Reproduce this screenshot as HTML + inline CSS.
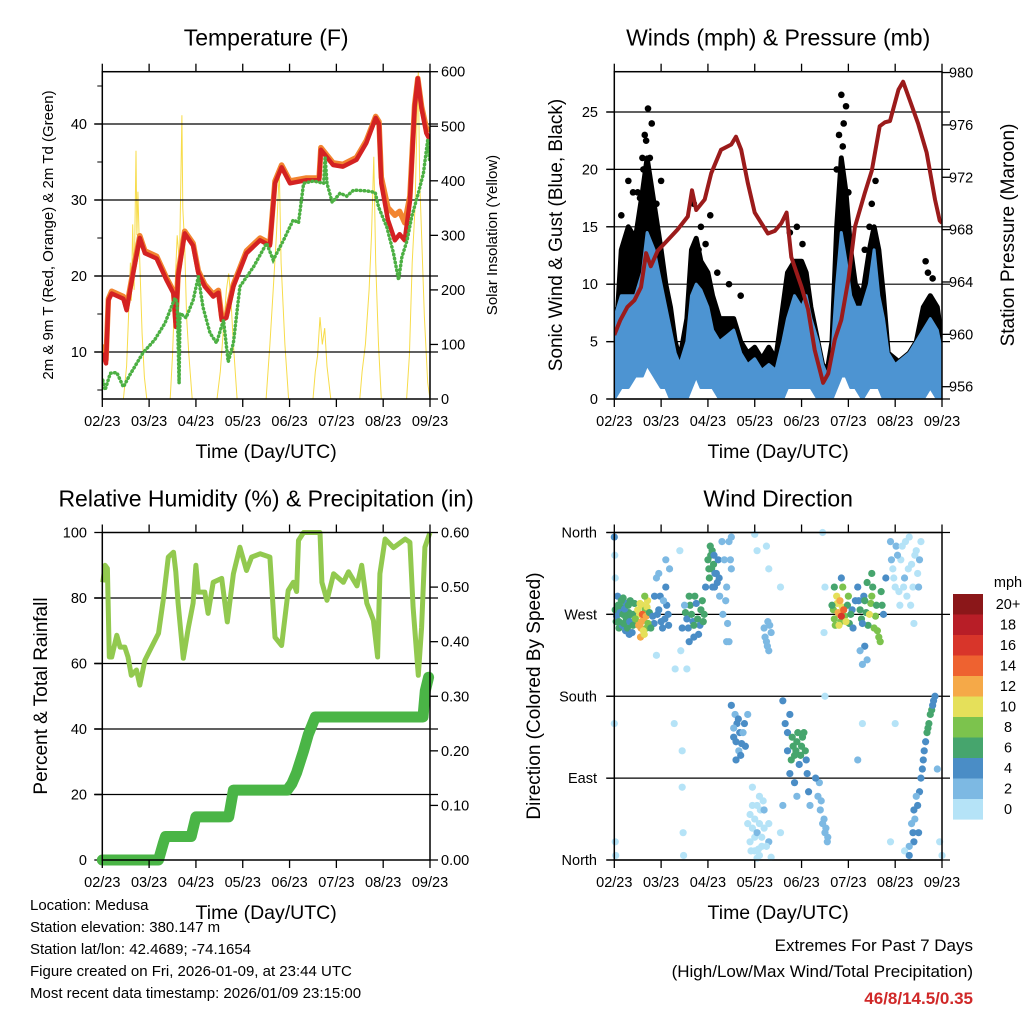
<!DOCTYPE html>
<html><head><meta charset="utf-8"><style>
html,body{margin:0;padding:0;background:#fff}
svg{display:block;font-family:"Liberation Sans",sans-serif}
</style></head><body>
<svg id="root" width="1024" height="1024" viewBox="0 0 1024 1024">
<rect width="1024" height="1024" fill="#fff"/>
<g id="p1"></g>
<g id="p2"></g>
<g id="p3"></g>
<g id="p4"></g>
<g font-size="15" fill="#000">
<text x="30" y="910">Location: Medusa</text>
<text x="30" y="932">Station elevation: 380.147 m</text>
<text x="30" y="954">Station lat/lon: 42.4689; -74.1654</text>
<text x="30" y="976">Figure created on Fri, 2026-01-09, at 23:44 UTC</text>
<text x="30" y="998">Most recent data timestamp: 2026/01/09 23:15:00</text>
</g>
<g text-anchor="end">
<text x="973" y="951" font-size="17">Extremes For Past 7 Days</text>
<text x="973" y="977" font-size="17">(High/Low/Max Wind/Total Precipitation)</text>
<text x="973" y="1004" font-size="17" font-weight="bold" fill="#d02828">46/8/14.5/0.35</text>
</g>
</svg>
<script>
const dayLabels=["02/23","03/23","04/23","05/23","06/23","07/23","08/23","09/23"];
// Temperature
const tDays=[0.01,0.08,0.13,0.2,0.45,0.52,0.59,0.66,0.8,0.91,1.16,1.37,1.52,1.57,1.62,1.76,1.94,2.05,2.19,2.37,2.48,2.55,2.65,2.8,3.08,3.37,3.58,3.69,3.83,4.01,4.36,4.63,4.67,4.93,5.14,5.43,5.64,5.84,5.91,5.96,6.1,6.25,6.35,6.46,6.57,6.67,6.74,6.82,6.92,6.99];
const tRed=[9.9,8.5,16.8,17.7,17,15.5,18,20.4,25,23,22.3,19.5,17.7,13.3,20,25.6,24,20.4,18.6,17.3,17.8,14.2,14.5,18.6,23,24.7,24,32.2,34.3,32.2,32.6,32.6,36.6,34.6,34.4,35.3,37.5,40.8,40,32.2,27.4,24.7,25.5,24.7,29.8,42.2,46,42,38.8,38];
const tOrange=[11,9,17,18,17.3,15.8,18.3,20.7,25.3,23.3,22.6,19.8,18,14,20.3,25.9,24.3,20.7,18.9,17.6,18.1,14.6,14.8,18.9,23.3,25,24.3,32.5,34.6,32.5,32.9,32.9,36.9,34.9,34.7,35.6,37.8,41,40.3,33,29,28,28.5,27,30.5,42.5,46,42.3,39.5,39];
const tdDays=[0.01,0.06,0.17,0.31,0.45,0.59,0.87,1.12,1.34,1.55,1.6,1.64,1.66,1.79,1.94,2.05,2.15,2.3,2.44,2.59,2.69,2.8,2.94,3.23,3.51,3.65,3.87,4.08,4.19,4.3,4.51,4.73,4.76,4.8,4.91,5.08,5.22,5.37,5.65,5.83,5.9,6.08,6.22,6.33,6.4,6.51,6.61,6.75,6.86,6.95,6.99];
const tdF=[6.3,5,7.2,7.3,5.4,7,9.9,11.6,13.8,17.1,16.5,5.9,15.1,14.5,16.8,19.9,15.9,12.5,11.2,14.2,8.7,11.2,18.6,21.2,24.3,22.1,24.7,27.4,27,32.2,32.5,32.2,35.7,32.2,29.7,30.9,30.5,31.3,31.2,31,29.1,26.4,23,19.5,22.5,24.7,27.8,30.9,33.5,37.9,35.3];
const solarDays=[0,0.45,0.52,0.56,0.6,0.62,0.65,0.68,0.72,0.74,0.76,0.8,0.85,0.9,0.95,1.45,1.5,1.55,1.6,1.65,1.7,1.72,1.76,1.8,1.85,1.92,2.45,2.52,2.58,2.65,2.7,2.75,2.8,2.88,3.5,3.58,3.65,3.72,3.78,3.82,3.9,3.98,4.5,4.55,4.6,4.65,4.7,4.75,4.8,4.88,5.5,5.55,5.62,5.7,5.75,5.8,5.84,5.9,5.96,6.5,6.56,6.62,6.68,6.72,6.75,6.78,6.82,6.88,6.95,7.0];
const solarW=[0,0,60,150,250,180,320,200,455,300,380,250,120,40,0,0,80,200,300,250,520,350,280,150,80,0,0,50,120,200,230,180,100,0,0,100,200,300,420,250,100,0,0,50,80,150,100,130,60,0,0,50,100,200,300,444,250,100,0,0,80,250,350,500,600,400,300,150,30,0];
const tempTicks=[10,20,30,40];
const solarTicks=[0,100,200,300,400,500,600];
// Winds
const pDays=[0,0.13,0.28,0.43,0.57,0.68,0.78,0.93,1.14,1.35,1.57,1.66,1.75,1.93,2.07,2.28,2.5,2.6,2.71,2.85,3.0,3.14,3.28,3.43,3.57,3.68,3.78,4.0,4.14,4.28,4.46,4.57,4.71,4.85,5.0,5.14,5.35,5.5,5.67,5.78,5.89,6.07,6.17,6.31,6.49,6.67,6.85,6.95,7.0];
const pMb=[959.95,961.1,962.1,962.6,963.6,966.2,965.2,966.4,967.2,968,969,971,969.5,970.3,972.3,974.1,974.5,975.1,974.1,971.6,969.3,968.5,967.7,967.9,968.5,969.3,965.9,963.6,961.9,958.8,956.3,957,959.6,961.1,964.2,968.2,970.8,972.5,975.9,976.2,976.3,978.7,979.3,977.9,976.1,973.9,970.3,968.7,968.5];
const wDays=[0,0.15,0.3,0.45,0.6,0.7,0.85,1.0,1.1,1.2,1.3,1.4,1.55,1.65,1.75,1.85,2.0,2.1,2.25,2.4,2.55,2.7,2.85,3.0,3.15,3.3,3.45,3.6,3.7,3.85,4.0,4.1,4.2,4.35,4.45,4.55,4.65,4.75,4.85,4.95,5.05,5.15,5.3,5.45,5.55,5.65,5.75,5.85,6.0,6.15,6.3,6.45,6.6,6.75,6.9,7.0];
const wHi=[7,9,9,9,11,14.5,13,10,8,6,4,3,5,9,10,9.5,8,6,5,5.5,6,4,3,3.5,2.5,3,2.5,5,7,9,8,9,7,5,3,2,4,10,14.5,12,9,8,8,10,13,9,7,4,3,3.5,4,5,6,7,6,4];
const wLo=[0,1,1,2,2,3,2,1,1,0,0,0,0,1,2,1,1,1,0,0,0,0,0,0,0,0,0,0,1,1,1,1,1,0,0,0,0,1,2,2,1,1,0,1,1,1,0,0,0,0,0,0,0,1,0,0];
const gHi=[3,13,15,14,18,21,17,13,10,8,5,3.5,7,13,14,12,11,9,7,7,7,5,4,4.5,3.5,4.5,3.5,8,11,12,12,11,8,5,3,2.5,5,15,21,18,13,10,9,13,15,13,9,4,3.5,3,4,5,8,9,8,5];
const gDotDays=[0.55,0.65,0.72,1.0,1.8,2.05,2.7,4.02,4.85,4.95,5.35,5.45,6.7,0.3,0.8,0.15,0.4,0.6,0.68,0.76,0.9,1.7,1.85,1.95,2.2,2.45,3.75,3.9,4.8,4.9,5.0,5.5,5.58,6.65,6.8,0.5,0.62,4.75,4.88];
const gDotMph=[17.5,23,25.3,19,13,16,9,13.5,26.5,25.5,13,15,11,19,24,16,18,21,22.5,21,17,17,15,13.5,11,10,14.5,15,23,24,18,17,19,12,10.5,18,20,20,22];
const windTicks=[0,5,10,15,20,25];
const presTicks=[956,960,964,968,972,976,980];
// Humidity / rain
const rhDays=[0.01,0.06,0.11,0.15,0.2,0.31,0.38,0.48,0.55,0.62,0.73,0.8,0.91,1.05,1.2,1.3,1.41,1.52,1.57,1.62,1.73,1.84,1.94,2.0,2.05,2.19,2.26,2.37,2.55,2.67,2.8,2.94,3.08,3.19,3.37,3.58,3.69,3.83,3.97,4.08,4.15,4.19,4.3,4.65,4.69,4.8,4.94,5.15,5.26,5.44,5.54,5.65,5.79,5.88,5.93,6.04,6.22,6.47,6.57,6.64,6.75,6.82,6.89,7.0];
const rhPct=[84.8,90,89,62,62,68.6,65,65,62,56.4,58,53.4,61,65,69.2,79.3,92.5,94,88,78.4,61.6,71,78.4,90,81.8,81.8,75.3,84.8,86,72.7,87.4,95.5,88.4,92.5,93.5,92.5,68,65.5,82.3,84.8,82,97.6,100,100,84.8,79.3,87.4,84.8,88,83.7,90,78.4,73.2,62,87.4,98,95.4,98,97,77.2,56.4,71,95.5,100];
const rainDays=[0,1.2,1.3,1.35,1.9,2.0,2.7,2.8,3.95,4.05,4.15,4.3,4.4,4.55,6.85,6.9,6.97];
const rainIn=[0,0,0.03,0.043,0.043,0.079,0.079,0.128,0.128,0.14,0.16,0.2,0.23,0.262,0.262,0.31,0.335];
const rhTicks=[0,20,40,60,80,100];
const rainTicks=["0.00","0.10","0.20","0.30","0.40","0.50","0.60"];
// Wind direction
const dirDay=[0.02,0.05,0.08,0.1,0.12,0.15,0.18,0.2,0.22,0.25,0.28,0.3,0.33,0.36,0.38,0.4,0.45,0.5,0.52,0.55,0.58,0.6,0.62,0.65,0.68,0.7,0.72,0.75,0.78,0.82,0.86,0.9,0.95,1.0,1.05,1.1,1.15,1.18,0.0,0.01,0.02,0.0,0.02,0.03,1.45,1.5,1.55,1.6,1.65,1.7,1.75,1.8,1.85,1.9,1.95,2.0,2.03,2.05,2.08,2.1,2.13,2.15,2.2,2.25,2.3,2.35,2.4,2.42,2.45,2.5,2.5,1.4,1.42,1.45,1.45,1.47,1.48,1.3,1.28,2.5,2.55,2.6,2.65,2.7,2.75,2.8,2.85,2.6,2.85,2.9,2.95,3.0,3.0,3.05,3.1,3.1,3.15,3.2,3.25,3.3,3.35,2.95,3.05,3.2,3.25,3.28,3.3,3.35,3.25,3.3,3.0,3.05,3.6,3.65,3.7,3.75,3.8,3.85,3.9,3.95,4.0,4.05,4.1,3.85,3.9,3.55,3.6,3.55,4.3,4.35,4.4,4.45,4.5,4.55,4.5,4.5,4.48,4.45,4.65,4.7,4.75,4.78,4.8,4.82,4.85,4.88,4.9,4.95,5.0,5.05,5.1,5.15,5.2,5.25,5.3,5.35,5.4,5.45,5.5,5.55,5.6,5.65,5.7,5.75,5.8,5.25,5.3,5.9,5.95,6.0,6.05,6.1,6.15,6.2,6.25,6.3,6.35,6.4,6.45,6.5,6.55,6.35,6.4,6.45,6.5,6.55,6.6,6.65,6.7,6.75,6.8,6.85,6.9,6.2,6.3,6.95,7.0,5.3,5.2,5.9,6.0,1.55,0.9];
const dirDeg=[275,268,280,262,272,285,270,260,276,266,255,280,262,270,250,258,265,275,258,282,262,270,252,290,268,278,260,272,255,268,290,310,275,262,285,300,270,320,355,335,310,150,20,5,255,280,265,290,270,258,282,248,275,262,300,330,310,345,320,300,335,315,305,290,350,330,300,260,240,355,320,340,230,120,80,30,5,210,150,170,145,130,155,115,140,125,160,110,40,20,60,10,45,30,70,5,25,55,15,40,3,80,2,255,240,262,230,250,345,320,358,340,175,150,120,95,135,115,130,105,125,140,110,85,70,300,60,30,90,70,55,40,30,20,180,300,250,360,280,265,290,272,258,285,268,300,275,262,290,270,255,285,300,275,260,285,305,270,290,255,280,245,295,270,310,230,215,350,320,300,335,280,345,310,290,355,325,260,340,300,350,40,55,70,30,90,110,130,145,160,170,180,100,10,5,20,5,150,110,20,150,210,225];
const dirSpd=[6,5,6,7,5,6,7,6,5,6,7,6,5,6,4,7,9,11,12,10,13,15,11,9,12,10,8,7,6,5,4,3,4,5,3,4,5,2,4,1,1,1,1,1,4,3,5,6,7,6,5,4,7,6,5,6,7,7,6,5,5,4,4,3,2,3,2,3,2,2,2,1,1,1,1,1,1,1,1,4,3,4,5,4,3,4,3,4,1,1,1,1,1,2,1,1,1,2,1,1,1,1,1,2,2,3,2,2,1,1,1,1,4,4,5,4,7,7,6,4,7,6,5,4,3,1,2,1,4,3,3,2,3,2,1,1,1,1,7,9,10,13,11,12,16,9,14,10,8,6,5,4,5,7,4,6,7,10,8,8,7,8,6,4,5,3,3,2,1,1,2,1,1,2,1,1,1,1,1,2,1,3,4,3,4,4,4,5,6,7,5,4,3,1,4,1,1,1,2,1,1,1,1];
const dirDayB=[0.04,0.07,0.1,0.14,0.17,0.19,0.23,0.26,0.29,0.31,0.34,0.37,0.41,0.43,0.24,0.32,0.48,0.54,0.57,0.6,0.63,0.66,0.69,0.71,0.56,0.64,0.85,0.92,0.98,1.03,1.08,1.12,1.16,0.95,1.1,1.52,1.58,1.62,1.68,1.72,1.78,1.83,1.88,1.92,1.6,1.7,2.02,2.06,2.09,2.12,2.14,2.18,2.22,2.24,2.32,2.38,2.45,2.48,2.4,2.55,2.62,2.68,2.72,2.78,2.66,2.58,2.9,2.95,3.0,3.05,3.1,3.15,3.2,3.3,2.92,3.08,3.12,3.18,3.22,3.27,3.32,3.7,3.78,3.82,3.88,3.92,3.98,4.02,4.08,4.12,4.15,4.18,3.75,4.38,4.42,4.48,4.52,4.56,4.68,4.72,4.76,4.8,4.84,4.87,4.92,4.98,5.02,5.08,4.7,4.85,5.22,5.28,5.33,5.38,5.42,5.48,5.52,5.58,5.62,5.68,5.72,5.5,5.35,5.4,5.92,5.97,6.02,6.08,6.12,6.18,6.22,6.28,6.33,6.38,6.42,6.48,6.52,6.38,6.42,6.48,6.52,6.58,6.62,6.68,6.72,6.78,6.82,6.4,6.3];
const dirDegB=[262,290,255,278,258,288,270,282,265,272,285,260,270,282,252,248,262,270,255,280,265,275,255,285,245,248,260,270,290,255,265,280,258,315,330,272,255,280,262,290,265,258,285,270,240,245,320,335,340,325,300,315,330,310,270,285,350,330,240,135,150,140,128,150,120,160,50,35,25,60,40,15,35,20,10,12,55,65,245,235,258,140,110,125,120,140,115,135,120,95,75,60,160,85,65,45,35,25,275,258,282,270,262,278,268,280,260,275,300,310,285,265,290,272,258,282,300,268,252,240,280,315,235,220,330,310,345,295,330,300,350,320,280,300,335,315,330,30,45,60,75,100,120,140,150,165,175,20,15];
const dirSpdB=[6,5,6,7,5,6,7,5,6,7,6,5,6,7,4,4,12,10,13,11,12,9,8,10,12,10,5,4,4,5,4,5,4,3,3,6,5,7,5,6,7,5,6,7,4,4,7,6,7,6,5,5,4,5,2,3,2,2,2,4,4,4,5,4,3,3,1,1,1,1,1,1,1,2,1,1,1,1,2,2,2,4,6,7,7,6,6,7,6,4,4,3,4,3,3,3,2,3,8,8,11,12,9,10,8,7,6,5,6,5,5,6,5,7,6,8,7,9,8,8,6,6,4,3,2,1,2,1,1,1,1,1,1,1,1,1,2,4,3,4,4,4,5,7,6,6,5,4,2];
const spdColors=["#b5e3f7","#7db9e3","#4a8dc6","#46a56d","#7cc34d","#e5e05a","#f5a948","#ee6230","#d8352a","#b81e27","#8b1719"];
const spdLabels=["20+","18","16","14","12","10","8","6","4","2","0"];
const dirLabels=["North","West","South","East","North"];

const NS="http://www.w3.org/2000/svg";
function mk(parent,tag,attrs){const e=document.createElementNS(NS,tag);for(const k in attrs)e.setAttribute(k,attrs[k]);parent.appendChild(e);return e;}
function txt(parent,x,y,s,size,anchor,rot){const e=mk(parent,"text",{x:x,y:y,"font-size":size,"text-anchor":anchor||"middle"});if(rot)e.setAttribute("transform","rotate(-90 "+x+" "+y+")");e.textContent=s;return e;}
function frame(g,x0,y0,x1,y1,title,xTitle){
  for(let i=0;i<8;i++){const x=x0+i*(x1-x0)/7;
    const t1=mk(g,"line",{x1:x,y1:y0,x2:x,y2:y0-8,stroke:"#000","stroke-width":1.3});
    
    const t2=mk(g,"line",{x1:x,y1:y1,x2:x,y2:y1+8,stroke:"#000","stroke-width":1.3});
    
    const l=txt(g,x,y1+27,dayLabels[i],14.5);
    }
  const r=mk(g,"rect",{x:x0,y:y0,width:x1-x0,height:y1-y0,fill:"none",stroke:"#000","stroke-width":1.5});
  
  const t=txt(g,(x0+x1)/2,y0-26,title,23);
  
  const xt=txt(g,(x0+x1)/2,y1+59,xTitle,19.5);
  
}
function yTicks(g,x0,x1,ys,labels,side,grid,lx){
  ys.forEach((y,i)=>{
    if(grid){const gl=mk(g,"line",{x1:x0-8,y1:y,x2:x1+8,y2:y,stroke:"#000","stroke-width":1.2});
      }
    const tx=side==="left"?x0:x1;const d=side==="left"?-8:8;
    const tk=mk(g,"line",{x1:tx,y1:y,x2:tx+d,y2:y,stroke:"#000","stroke-width":1.3});
    
    const l=txt(g,lx,y+5,labels[i],14.5,side==="left"?"end":"start");
    
  });
}
function pathD(xs,ys){return xs.map((x,i)=>(i?"L":"M")+x.toFixed(1)+" "+ys[i].toFixed(1)).join(" ");}

// ---- Panel 1
(function(){
  const g=document.getElementById("p1");const X0=102.3,X1=430,Y0=71.7,Y1=399;
  const xs=d=>X0+d*(X1-X0)/7;const yT=v=>352-(v-10)*7.6;const yS=v=>Y1-v*(Y1-Y0)/600;
  const clip=mk(g,"clipPath",{id:"c1"});mk(clip,"rect",{x:X0,y:Y0,width:X1-X0,height:Y1-Y0});
  const s=mk(g,"path",{d:pathD(solarDays.map(xs),solarW.map(yS)),fill:"none",stroke:"#f7dc4a","stroke-width":1,"clip-path":"url(#c1)"});
  
  yTicks(g,X0,X1,tempTicks.map(yT),tempTicks.map(String),"left",true,87);
  yTicks(g,X0,X1,solarTicks.map(yS),solarTicks.map(String),"right",false,441);
  [5,15,25,35,45].forEach(v=>{const m=mk(g,"line",{x1:X0,y1:yT(v),x2:X0-5,y2:yT(v),stroke:"#000"});});
  const o=mk(g,"path",{d:pathD(tDays.map(xs),tOrange.map(yT)),fill:"none",stroke:"#f28530","stroke-width":5.5,"stroke-linejoin":"round","clip-path":"url(#c1)"});
  
  const r=mk(g,"path",{d:pathD(tDays.map(xs),tRed.map(yT)),fill:"none",stroke:"#d42222","stroke-width":4.5,"stroke-linejoin":"round","clip-path":"url(#c1)"});
  
  const d=mk(g,"path",{d:pathD(tdDays.map(xs),tdF.map(yT)),fill:"none",stroke:"#4cb043","stroke-width":3.5,"stroke-linecap":"round","stroke-dasharray":"0.5 3.5","clip-path":"url(#c1)"});
  
  frame(g,X0,Y0,X1,Y1,"Temperature (F)","Time (Day/UTC)");
  const a=txt(g,53,235,"2m & 9m T (Red, Orange) & 2m Td (Green)",15,"middle",true);
  const b=txt(g,497,235,"Solar Insolation (Yellow)",15,"middle",true);
})();

// ---- Panel 2
(function(){
  const g=document.getElementById("p2");const X0=614.3,X1=942,Y0=71.7,Y1=399;
  const xs=d=>X0+d*(X1-X0)/7;const yW=v=>Y1-v*11.48;const yP=v=>386.7-(v-956)*13.09;
  const clip=mk(g,"clipPath",{id:"c2"});mk(clip,"rect",{x:X0,y:Y0,width:X1-X0,height:Y1-Y0});
  yTicks(g,X0,X1,windTicks.map(yW),windTicks.map(String),"left",true,598);
  yTicks(g,X0,X1,presTicks.map(yP),presTicks.map(String),"right",false,949);
  const gx=wDays.map(xs);
  const gp=pathD(gx,gHi.map(yW))+" "+gx.slice().reverse().map((x,i)=>"L"+x.toFixed(1)+" "+yW(wHi[wHi.length-1-i]).toFixed(1)).join(" ")+"Z";
  const ga=mk(g,"path",{d:gp,fill:"#000",stroke:"#000","stroke-width":5,"stroke-linejoin":"round","clip-path":"url(#c2)"});
  
  gDotDays.forEach((dd,i)=>{const c=mk(g,"circle",{cx:xs(dd),cy:yW(gDotMph[i]),r:3.3,fill:"#000"});
    });
  const bp=pathD(gx,wHi.map(yW))+" "+gx.slice().reverse().map((x,i)=>"L"+x.toFixed(1)+" "+yW(wLo[wLo.length-1-i]).toFixed(1)).join(" ")+"Z";
  const ba=mk(g,"path",{d:bp,fill:"#4d94d2",stroke:"#4d94d2","stroke-width":3,"stroke-linejoin":"round","clip-path":"url(#c2)"});
  
  const p=mk(g,"path",{d:pathD(pDays.map(xs),pMb.map(yP)),fill:"none",stroke:"#9b1b1b","stroke-width":4,"stroke-linejoin":"round","clip-path":"url(#c2)"});
  
  frame(g,X0,Y0,X1,Y1,"Winds (mph) & Pressure (mb)","Time (Day/UTC)");
  const a=txt(g,562,235,"Sonic Wind & Gust (Blue, Black)",19,"middle",true);
  const b=txt(g,1014,235,"Station Pressure (Maroon)",19,"middle",true);
})();

// ---- Panel 3
(function(){
  const g=document.getElementById("p3");const X0=102.3,X1=430,Y0=532.5,Y1=860;
  const xs=d=>X0+d*(X1-X0)/7;const yH=v=>Y1-v*3.275;const yR=v=>Y1-v*545.8;
  yTicks(g,X0,X1,[20,40,60,80].map(yH),["","","",""],"left",true,87);
  yTicks(g,X0,X1,rhTicks.map(yH),rhTicks.map(String),"left",false,87);
  yTicks(g,X0,X1,rainTicks.map(v=>yR(parseFloat(v))),rainTicks,"right",false,441);
  const rn=mk(g,"path",{d:pathD(rainDays.map(xs),rainIn.map(yR)),fill:"none",stroke:"#4ab546","stroke-width":11,"stroke-linecap":"round","stroke-linejoin":"round"});
  
  const rh=mk(g,"path",{d:pathD(rhDays.map(xs),rhPct.map(yH)),fill:"none",stroke:"#92c94f","stroke-width":5,"stroke-linejoin":"round"});
  
  frame(g,X0,Y0,X1,Y1,"Relative Humidity (%) & Precipitation (in)","Time (Day/UTC)");
  const a=txt(g,47,696,"Percent & Total Rainfall",19,"middle",true);
})();

// ---- Panel 4
(function(){
  const g=document.getElementById("p4");const X0=614.3,X1=942,Y0=532.5,Y1=860;
  const xs=d=>X0+d*(X1-X0)/7;const yD=v=>Y1-v*(Y1-Y0)/360;
  yTicks(g,X0,X1,[360,270,180,90,0].map(yD),dirLabels,"left",true,597);
  const all=[[dirDayB,dirDegB,dirSpdB],[dirDay,dirDeg,dirSpd]];
  all.forEach(s=>{s[0].forEach((dd,i)=>{const bin=Math.min(10,Math.floor(s[2][i]/2));
    const c=mk(g,"circle",{cx:xs(dd),cy:yD(s[1][i]),r:3.6,fill:spdColors[bin]});
    });});
  frame(g,X0,Y0,X1,Y1,"Wind Direction","Time (Day/UTC)");
  const a=txt(g,540,696,"Direction (Colored By Speed)",19,"middle",true);
  const m=txt(g,1008,587,"mph",14.5);
  for(let i=0;i<11;i++){const y=594+i*20.5;
    const r=mk(g,"rect",{x:953,y:y,width:30,height:20.6,fill:spdColors[10-i]});
    
    const l=txt(g,1008,y+15,spdLabels[i],14.5);}
})();
</script>
</body></html>
